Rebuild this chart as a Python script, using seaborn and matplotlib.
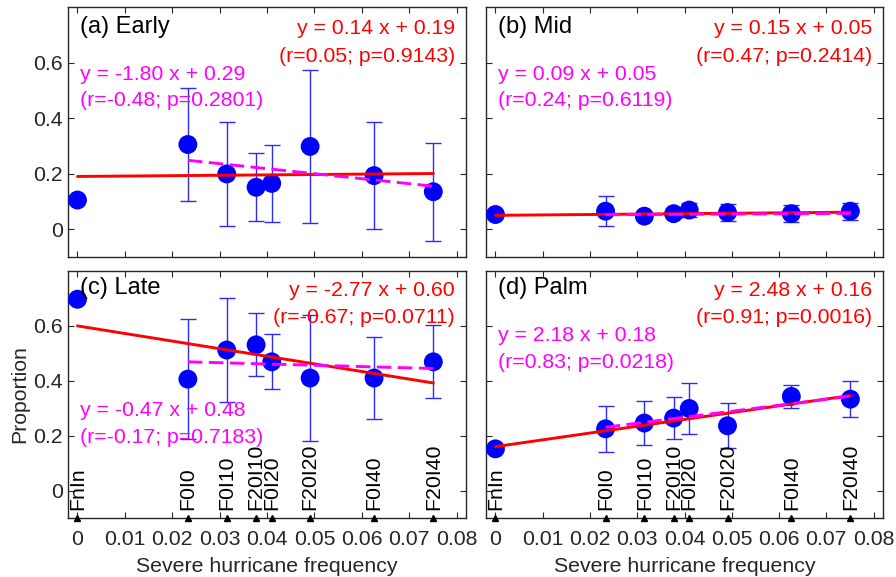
import numpy as np
import pandas as pd
import matplotlib
matplotlib.use("Agg")
import matplotlib.pyplot as plt
import seaborn as sns

# ---------------- data ----------------
treatments = ["FnIn", "F0I0", "F0I10", "F20I10", "F0I20", "F20I20", "F0I40", "F20I40"]
freq = [0.0, 0.0233, 0.0315, 0.0377, 0.0410, 0.0491, 0.0626, 0.0751]

early = [0.105, 0.305, 0.199, 0.151, 0.165, 0.298, 0.193, 0.135]
early_err = [np.nan, 0.203, 0.188, 0.123, 0.140, 0.277, 0.193, 0.176]
mid = [0.053, 0.065, 0.047, 0.056, 0.069, 0.060, 0.056, 0.065]
mid_err = [np.nan, 0.054, 0.010, 0.015, 0.025, 0.031, 0.030, 0.030]
late = [0.697, 0.406, 0.512, 0.531, 0.469, 0.410, 0.410, 0.469]
late_err = [np.nan, 0.218, 0.190, 0.115, 0.100, 0.228, 0.148, 0.133]
palm = [0.152, 0.225, 0.246, 0.264, 0.299, 0.236, 0.343, 0.333]
palm_err = [np.nan, 0.084, 0.080, 0.076, 0.092, 0.082, 0.043, 0.066]

panel_titles = ["(a) Early", "(b) Mid", "(c) Late", "(d) Palm"]

# fit over all treatments (red) and without FnIn (magenta)
all_slope = [0.14, 0.15, -2.77, 2.48]
all_icpt = [0.19, 0.05, 0.60, 0.16]
all_r = [0.05, 0.47, -0.67, 0.91]
all_p = [0.9143, 0.2414, 0.0711, 0.0016]
sub_slope = [-1.80, 0.09, -0.47, 2.18]
sub_icpt = [0.29, 0.05, 0.48, 0.18]
sub_r = [-0.48, 0.24, -0.17, 0.83]
sub_p = [0.2801, 0.6119, 0.7183, 0.0218]

xticks = [0, 0.01, 0.02, 0.03, 0.04, 0.05, 0.06, 0.07, 0.08]
xticklabels = ["0", "0.01", "0.02", "0.03", "0.04", "0.05", "0.06", "0.07", "0.08"]
yticks = [0, 0.2, 0.4, 0.6]
yticklabels = ["0", "0.2", "0.4", "0.6"]

# ---------------- style ----------------
sns.set_style("ticks")
plt.rcParams["font.family"] = ["Liberation Sans", "DejaVu Sans"]
plt.rcParams["axes.edgecolor"] = "#262626"
plt.rcParams["axes.linewidth"] = 1.0

FS = 15.3
fig = plt.figure(figsize=(8.96, 5.77), dpi=100)
W, H = 896, 577
boxes = [(68, 7, 466, 257), (486, 7, 883, 257), (68, 271, 466, 518), (486, 271, 883, 518)]
axes = [fig.add_axes([l / W, 1 - b / H, (r - l) / W, (b - t) / H]) for (l, t, r, b) in boxes]

values = [early, mid, late, palm]
errors = [early_err, mid_err, late_err, palm_err]
mag_pos = [(0.728, 0.626), (0.728, 0.626), (0.437, 0.325), (0.737, 0.629)]

for i, ax in enumerate(axes):
    df = pd.DataFrame({"x": freq, "y": values[i], "err": errors[i], "trt": treatments})
    sub = df[df["trt"] != "FnIn"]
    ax.errorbar(sub["x"], sub["y"], yerr=sub["err"], fmt="none", ecolor="#2b2bff",
                elinewidth=1.0, capsize=6, capthick=1.0, zorder=2)
    sns.scatterplot(data=df, x="x", y="y", ax=ax, color="#0000ff", s=185,
                    edgecolor="none", linewidth=0, zorder=3, legend=False)
    # regression lines
    xa = np.array([df["x"].min(), df["x"].max()])
    ax.plot(xa, all_slope[i] * xa + all_icpt[i], color="#ff0000", lw=2.1, zorder=5)
    xs = np.array([sub["x"].min(), sub["x"].max()])
    ax.plot(xs, sub_slope[i] * xs + sub_icpt[i], color="#ff00ff", lw=2.1,
            dashes=(5, 2.2), zorder=6)

    ax.set_xlim(-0.002, 0.082)
    ax.set_ylim(-0.1, 0.8)
    ax.set_xticks(xticks)
    ax.set_yticks(yticks)
    ax.tick_params(direction="in", top=True, right=True, length=4, width=0.8,
                   colors="#262626", labelsize=FS, labelcolor="#262626")
    ax.tick_params(axis="x", pad=8.5)
    ax.tick_params(axis="y", pad=3.5)
    if i in (0, 2):
        ax.set_yticklabels(yticklabels)
    else:
        ax.set_yticklabels([])
    if i in (2, 3):
        ax.set_xticklabels(xticklabels)
        ax.set_xlabel("Severe hurricane frequency", fontsize=FS, color="#262626", labelpad=6)
        # treatment markers and labels
        ax.plot(df["x"], np.full(len(df), -0.1), linestyle="none", marker="^",
                color="black", ms=5, clip_on=False, zorder=7)
        for xv, lab in zip(df["x"], df["trt"]):
            ax.text(xv, -0.07, lab, rotation=90, ha="center", va="bottom",
                    fontsize=FS, color="black", zorder=7)
    else:
        ax.set_xticklabels([])
        ax.set_xlabel("")
    if i == 2:
        ax.set_ylabel("Proportion", fontsize=FS, color="#262626", labelpad=3)
    else:
        ax.set_ylabel("")
    for sp in ax.spines.values():
        sp.set_visible(True)
        sp.set_color("#262626")

    ty = 0.92 if i < 2 else 0.931
    ax.text(0.03, ty, panel_titles[i], transform=ax.transAxes, ha="left", va="center",
            fontsize=17, color="black", zorder=8)
    r1, r2 = (0.912, 0.80) if i < 2 else (0.920, 0.811)
    ax.text(0.972, r1, f"y = {all_slope[i]:.2f} x + {all_icpt[i]:.2f}", transform=ax.transAxes,
            ha="right", va="center", fontsize=FS, color="#ff0000", zorder=8)
    ax.text(0.972, r2, f"(r={all_r[i]:.2f}; p={all_p[i]:.4f})", transform=ax.transAxes,
            ha="right", va="center", fontsize=FS, color="#ff0000", zorder=8)
    m1, m2 = mag_pos[i]
    ax.text(0.03, m1, f"y = {sub_slope[i]:.2f} x + {sub_icpt[i]:.2f}", transform=ax.transAxes,
            ha="left", va="center", fontsize=FS, color="#ff00ff", zorder=8)
    ax.text(0.03, m2, f"(r={sub_r[i]:.2f}; p={sub_p[i]:.4f})", transform=ax.transAxes,
            ha="left", va="center", fontsize=FS, color="#ff00ff", zorder=8)

fig.savefig("out.png", dpi=100)
